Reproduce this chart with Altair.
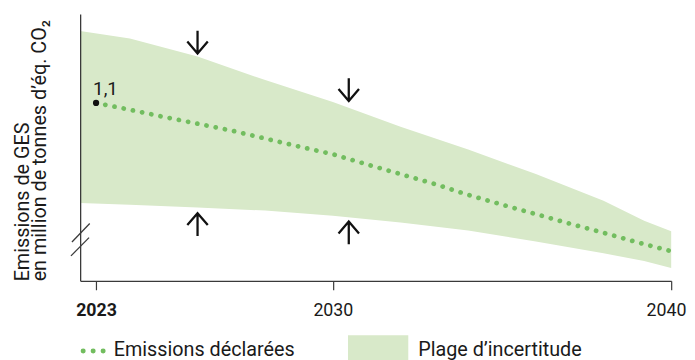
import altair as alt
import pandas as pd

# ---- data ----
years = [2023, 2024, 2025, 2026, 2027, 2028, 2029, 2030, 2031, 2032,
         2033, 2034, 2035, 2036, 2037, 2038, 2039, 2040]
emissions = [1.100, 1.077, 1.053, 1.030, 1.007, 0.980, 0.953, 0.927, 0.893, 0.860,
             0.827, 0.790, 0.757, 0.725, 0.693, 0.662, 0.630, 0.600]

band_years = [2022.53, 2024, 2026, 2028, 2030, 2032, 2034, 2036, 2038, 2039.2, 2040]
band_upper = [1.343, 1.317, 1.257, 1.177, 1.103, 1.020, 0.943, 0.860, 0.770, 0.703, 0.667]
band_lower = [0.763, 0.757, 0.747, 0.737, 0.720, 0.697, 0.670, 0.633, 0.593, 0.567, 0.543]

tick_years = [2023, 2030, 2040]
start_year = [2023]
start_value = [1.1]
start_text = ["1,1"]

arrow_years = [2026.0, 2030.47, 2026.0, 2030.47]
arrow_values = [1.305, 1.145, 0.690, 0.662]
arrow_dirs = ["down", "down", "up", "up"]

legend_labels = ["Emissions déclarées", "Plage d’incertitude"]
y_title = ["Emissions de GES", "en million de tonnes d’éq. CO₂"]

# ---- styling ----
GREEN = "#72bd5f"
BAND = "#d8e9c9"
INK = "#1a1a1a"
AXIS = "#3a3a3a"
FONT = "Roboto"

df_line = pd.DataFrame({"year": years, "value": emissions})
df_band = pd.DataFrame({"year": band_years, "upper": band_upper, "lower": band_lower})
df_start = pd.DataFrame({"year": start_year, "value": start_value, "label": start_text})
df_arrow = pd.DataFrame({"year": arrow_years, "value": arrow_values, "dir": arrow_dirs})
one = pd.DataFrame({"k": [0]})

x_scale = alt.Scale(domain=[2022.53, 2040], nice=False, zero=False)
y_scale = alt.Scale(domain=[0.5, 1.4], nice=False, zero=False)

x_axis = alt.Axis(
    values=tick_years, format="d", title=None, grid=False,
    domainColor=AXIS, domainWidth=1.3, tickColor=AXIS, tickWidth=1.2, tickSize=9,
    labelFont=FONT, labelFontSize=18, labelColor=INK, labelBaseline="alphabetic",
    labelPadding=26, labelFlush=True, labelFlushOffset=15,
    labelFontWeight=alt.expr("datum.value == 2023 ? 'bold' : 'normal'"),
)
y_axis = alt.Axis(
    title=y_title, labels=False, ticks=False, grid=False, zindex=1,
    domainColor=AXIS, domainWidth=1.3,
    titleFont=FONT, titleFontSize=20, titleFontWeight="normal", titleColor=INK,
    titleAnchor="start", titleLineHeight=17, titlePadding=31,
)

band = alt.Chart(df_band).mark_area(color=BAND, opacity=1).encode(
    x=alt.X("year:Q", scale=x_scale, axis=x_axis),
    y=alt.Y("upper:Q", scale=y_scale, axis=y_axis),
    y2="lower:Q",
)

line = alt.Chart(df_line).mark_line(
    color=GREEN, strokeWidth=4.8, strokeDash=[0.1, 9.4], strokeCap="round"
).encode(x="year:Q", y="value:Q")

start_pt = alt.Chart(df_start).mark_circle(color="#111111", size=40, opacity=1).encode(
    x="year:Q", y="value:Q")
start_lbl = alt.Chart(df_start).mark_text(
    align="left", baseline="alphabetic", dx=-3, dy=-8, font=FONT, fontSize=19, color=INK
).encode(x="year:Q", y="value:Q", text="label:N")

down_path = "M0,-1L0,1M-0.9,-0.05L0,1L0.9,-0.05"
up_path = "M0,1L0,-1M-0.9,0.05L0,-1L0.9,0.05"
arrows = alt.Chart(df_arrow).mark_point(
    filled=False, size=529, strokeWidth=2.3, color="#111111", opacity=1
).encode(
    x="year:Q", y="value:Q",
    shape=alt.Shape("dir:N", scale=alt.Scale(domain=["down", "up"], range=[down_path, up_path]), legend=None),
)

# axis break marks
slash1 = alt.Chart(one).mark_rule(color=AXIS, strokeWidth=1.3).encode(
    x=alt.value(-8.3), y=alt.value(230.7), x2=alt.value(9.7), y2=alt.value(212))
slash2 = alt.Chart(one).mark_rule(color=AXIS, strokeWidth=1.3).encode(
    x=alt.value(-9.3), y=alt.value(244.7), x2=alt.value(9.0), y2=alt.value(226.3))

# manual legend
leg_dots = alt.Chart(one).mark_rule(
    color=GREEN, strokeWidth=5, strokeDash=[0.1, 10], strokeCap="round"
).encode(x=alt.value(3), x2=alt.value(23.5), y=alt.value(341), y2=alt.value(341))
leg_txt1 = alt.Chart(one).mark_text(
    align="left", baseline="alphabetic", font=FONT, fontSize=20, color=INK, text=legend_labels[0]
).encode(x=alt.value(34), y=alt.value(346))
leg_rect = alt.Chart(one).mark_rect(color=BAND, opacity=1).encode(
    x=alt.value(271), x2=alt.value(332), y=alt.value(325), y2=alt.value(352))
leg_txt2 = alt.Chart(one).mark_text(
    align="left", baseline="alphabetic", font=FONT, fontSize=20, color=INK, text=legend_labels[1]
).encode(x=alt.value(342), y=alt.value(346))

chart = alt.layer(
    band, line, start_pt, start_lbl, arrows, slash1, slash2,
    leg_dots, leg_txt1, leg_rect, leg_txt2,
).properties(
    width=598, height=270,
    padding={"left": 73, "top": 4, "right": 16, "bottom": 78},
    autosize=alt.AutoSizeParams(type="none"),
).configure_view(stroke=None)

chart.save("out.html", embed_options={"renderer": "svg", "actions": False})
